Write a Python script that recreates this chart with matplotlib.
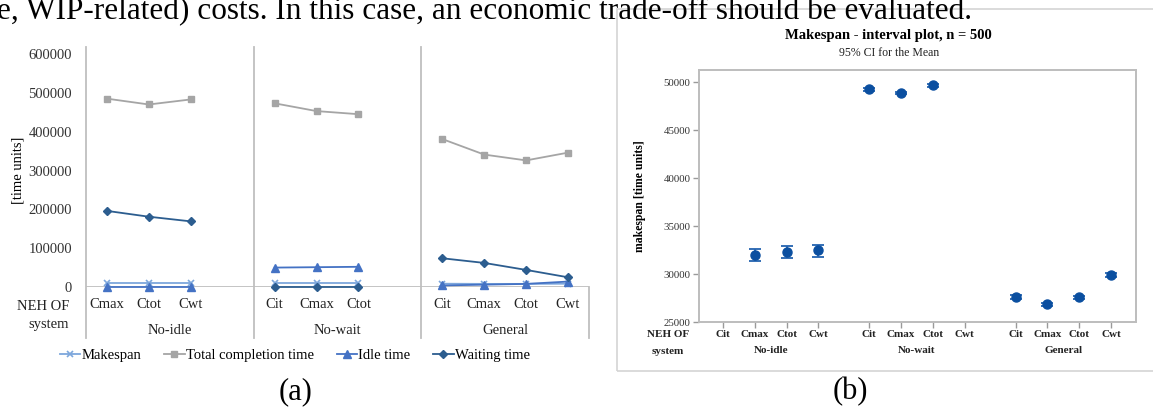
import numpy as np
import matplotlib.pyplot as plt
from matplotlib.patches import Rectangle

plt.rcParams['font.family'] = ['Liberation Serif', 'DejaVu Serif']

# ---- data, panel (a)
groups_a = ['No-idle', 'No-wait', 'General']
cats_a = [['Cmax', 'Ctot', 'Cwt'], ['Cit', 'Cmax', 'Ctot'], ['Cit', 'Cmax', 'Ctot', 'Cwt']]
makespan_a = [[9500, 9500, 9500], [11000, 11000, 11000], [8500, 8000, 8000, 8500]]
total_completion_a = [[485000, 470000, 483000], [473000, 453000, 445000], [381000, 341000, 326000, 346000]]
idle_a = [[0, 0, 0], [50000, 51000, 52000], [4000, 6000, 8000, 14000]]
waiting_a = [[196000, 181000, 169000], [0, 0, 0], [74000, 62000, 44000, 25000]]
yticks_a = [0, 100000, 200000, 300000, 400000, 500000, 600000]

# ---- data, panel (b)
groups_b = ['No-idle', 'No-wait', 'General']
cats_b = ['Cit', 'Cmax', 'Ctot', 'Cwt']
mean_b = [[np.nan, 32000, 32320, 32460], [49230, 48850, 49650, np.nan], [27600, 26830, 27600, 29900]]
lower_b = [[np.nan, 31350, 31630, 31730], [49080, 48700, 49480, np.nan], [27430, 26670, 27440, 29700]]
upper_b = [[np.nan, 32640, 32880, 32980], [49380, 49000, 49820, np.nan], [27770, 26990, 27760, 30100]]
yticks_b = [25000, 30000, 35000, 40000, 45000, 50000]

W, H = 1153, 411
fig = plt.figure(figsize=(W / 100, H / 100), dpi=100)


def fx(px):
    return px / W


def fy(py):
    return 1 - py / H


def axes_px(x0, y0, x1, y1):
    return fig.add_axes([fx(x0), fy(y1), (x1 - x0) / W, (y1 - y0) / H])


# top line of body text, cut off by the crop as in the source page
fig.text(fx(-3), fy(19), 'e, WIP-related) costs. In this case, an economic trade-off should be evaluated.',
         fontsize=22.5, ha='left', va='baseline')

# ================= panel (a)
ax = axes_px(86, 54, 589, 287)
ax.set_xlim(0, 12)
ax.set_ylim(0, 600000)
for s in ax.spines.values():
    s.set_visible(False)
ax.set_xticks([])
ax.set_yticks(yticks_a)
ax.set_yticklabels([str(v) for v in yticks_a])
ax.tick_params(axis='y', length=0, pad=10, labelsize=10.5, labelcolor='#333333')
ax.set_ylabel('[time units]', fontsize=10.5, labelpad=2)
ax.yaxis.set_label_coords(-0.123, 0.5)

sep = '#BFBFBF'
tr = ax.get_xaxis_transform()
ax.axhline(0, color=sep, lw=1.3, zorder=1)
for g in range(3):
    ax.plot([4 * g, 4 * g], [1.03, -0.219], color=sep, lw=1.3, transform=tr, clip_on=False)
ax.plot([12, 12], [0, -0.219], color=sep, lw=1.3, transform=tr, clip_on=False)

styles = [
    ('Makespan', makespan_a, dict(color='#7DA7DC', marker='x', ms=5, mew=1.2)),
    ('Total completion time', total_completion_a, dict(color='#A5A5A5', marker='s', ms=5)),
    ('Idle time', idle_a, dict(color='#4472C4', marker='^', ms=5.5)),
    ('Waiting time', waiting_a, dict(color='#2C5D8F', marker='D', ms=3.8)),
]
handles = []
for name, series, st in styles:
    for g in range(3):
        pos = [4 * g + k + 0.5 for k in range(len(series[g]))]
        ln, = ax.plot(pos, series[g], lw=1.3, clip_on=False, zorder=3, **st)
        if g == 0:
            ln.set_label(name)
            handles.append(ln)

for g in range(3):
    for k, c in enumerate(cats_a[g]):
        ax.text(4 * g + k + 0.5, -0.073, c, transform=tr, ha='center', va='center', fontsize=10.5, color='#222222')
    ax.text(4 * g + 2, -0.185, groups_a[g], transform=tr, ha='center', va='center', fontsize=10.5, color='#222222')
fig.text(fx(69), fy(306), 'NEH OF', ha='right', va='center', fontsize=10.5, color='#222222')
fig.text(fx(69), fy(324), 'system', ha='right', va='center', fontsize=10.5, color='#222222')

fig.legend(handles=handles, loc='center', bbox_to_anchor=(fx(295), fy(355)), ncol=4, frameon=False,
           fontsize=10.5, handlelength=1.4, handletextpad=0.1, columnspacing=1.55, borderpad=0)

fig.text(fx(296), fy(392), '(a)', ha='center', va='center', fontsize=22)

# ================= panel (b)
fig.add_artist(Rectangle((fx(617), fy(371)), fx(1165) - fx(617), (371 - 9.5) / H,
                         transform=fig.transFigure, fill=False, edgecolor='#D4D4D4', lw=1.2))

bx = axes_px(699, 70, 1136, 322)
bx.set_xlim(-0.755, 12.99)
bx.set_ylim(25000, 51250)
for s in bx.spines.values():
    s.set_color('#BDBDBD')
    s.set_linewidth(1.4)

positions = []
for g in range(3):
    pos = [4.6 * g + k for k in range(4)]
    positions += pos
    m = np.array(mean_b[g])
    lo = np.array(lower_b[g])
    hi = np.array(upper_b[g])
    bx.errorbar(pos, m, yerr=[m - lo, hi - m], fmt='o', ms=6.5, color='#0B4FA0', ecolor='#2463B0',
                elinewidth=1.3, capsize=4.5, capthick=1.3)
    for k, c in enumerate(cats_b):
        bx.text(pos[k], -0.048, c, transform=bx.get_xaxis_transform(), ha='center', va='center',
                fontsize=8, fontweight='bold', color='#222222')
    bx.text(np.mean(pos), -0.115, groups_b[g], transform=bx.get_xaxis_transform(), ha='center', va='center',
            fontsize=8, fontweight='bold', color='#222222')

bx.set_xticks(positions)
bx.set_xticklabels([])
bx.set_yticks(yticks_b)
bx.set_yticklabels([str(v) for v in yticks_b])
bx.tick_params(axis='both', direction='out', length=4, width=1, color='#9A9A9A')
bx.tick_params(axis='y', labelsize=7.8, labelcolor='#333333', pad=2)

fig.text(fx(668), fy(334), 'NEH OF', ha='center', va='center', fontsize=8, fontweight='bold', color='#222222')
fig.text(fx(668), fy(351), 'system', ha='center', va='center', fontsize=8, fontweight='bold', color='#222222')
fig.text(fx(888), fy(35), 'Makespan - interval plot, n = 500', ha='center', va='center',
         fontsize=10.5, fontweight='bold')
fig.text(fx(889), fy(53), '95% CI for the Mean', ha='center', va='center', fontsize=8.5, color='#222222')
fig.text(fx(640), fy(196), 'makespan [time units]', ha='center', va='center', rotation=90,
         fontsize=8.5, fontweight='bold')

fig.text(fx(850), fy(392), '(b)', ha='center', va='center', fontsize=22)

fig.savefig('out.png', dpi=100)
